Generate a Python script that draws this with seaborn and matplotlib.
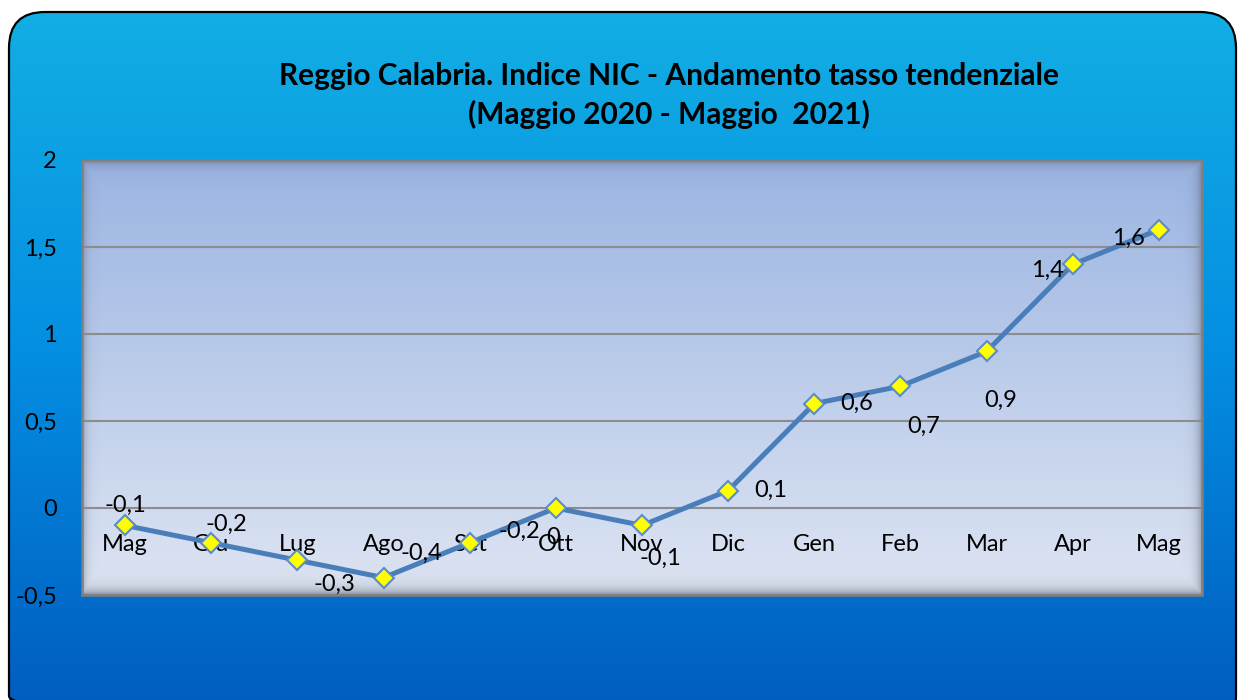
import matplotlib
matplotlib.use('Agg')
import matplotlib.pyplot as plt
from matplotlib.patches import FancyBboxPatch, Rectangle
import seaborn as sns
import numpy as np
import pandas as pd

months = ['Mag', 'Giu', 'Lug', 'Ago', 'Set', 'Ott', 'Nov', 'Dic', 'Gen', 'Feb', 'Mar', 'Apr', 'Mag']
tasso = [-0.1, -0.2, -0.3, -0.4, -0.2, 0.0, -0.1, 0.1, 0.6, 0.7, 0.9, 1.4, 1.6]
# text of the data labels as they appear on the chart
point_labels = ['-0,1', '-0,2', '-0,3', '-0,4', '-0,2', '0', '-0,1', '0,1', '0,6', '0,7', '0,9', '1,4', '1,6']
y_ticks = [-0.5, 0, 0.5, 1, 1.5, 2]
y_tick_labels = ['-0,5', '0', '0,5', '1', '1,5', '2']

# label offsets in pixels (dx, dy) relative to each point
label_offsets = [(0, 20), (15, 18), (37, -24), (38, 24), (50, 11), (-3, -29),
                 (18, -33), (43, 0), (42, 0), (23, -40), (14, -49), (-25, -6), (-30, -9)]

sns.set_theme(style='white')
plt.rcParams['font.family'] = ['Lato', 'DejaVu Sans']

W, H = 1243, 700
fig = plt.figure(figsize=(W / 100, H / 100), dpi=100)
fig.patch.set_facecolor('white')

# outer rounded background with vertical blue gradient
bg = fig.add_axes([0, 0, 1, 1])
bg.set_xlim(0, W)
bg.set_ylim(H, 0)
bg.axis('off')
top_c = np.array([18, 174, 228]) / 255
mid_c = np.array([4, 142, 226]) / 255
bot_c = np.array([0, 94, 192]) / 255
t = np.linspace(0, 1, 400)[:, None]
grad = np.where(t < 0.5, top_c + (mid_c - top_c) * (t / 0.5), mid_c + (bot_c - mid_c) * ((t - 0.5) / 0.5))
grad = np.repeat(grad[:, None, :], 2, axis=1)
box = FancyBboxPatch((9, 12), 1227, 720, boxstyle='round,pad=0,rounding_size=36',
                     facecolor='none', edgecolor='black', linewidth=1.6, zorder=3)
bg.add_patch(box)
img = bg.imshow(grad, extent=[9, 1236, 700, 12], aspect='auto', zorder=1)
img.set_clip_path(box)

# plot area
left, right, top, bottom = 82, 1202, 160, 595
ax = fig.add_axes([left / W, 1 - bottom / H, (right - left) / W, (bottom - top) / H])
ax.set_facecolor('none')

pa_top = np.array([154, 180, 226]) / 255
pa_bot = np.array([222, 229, 243]) / 255
tt = np.linspace(0, 1, 300)[:, None]
pa = pa_top + (pa_bot - pa_top) * tt
pa = np.repeat(pa[:, None, :], 2, axis=1)
ax.imshow(pa, extent=[0, 1, 0, 1], transform=ax.transAxes, aspect='auto', zorder=0)

# inner bevel shadow
ph, pw = bottom - top, right - left
yy, xx = np.mgrid[0:ph, 0:pw]
shade = np.maximum.reduce([0.55 * np.exp(-yy / 5.0),
                           0.6 * np.exp(-(ph - 1 - yy) / 6.0),
                           0.45 * np.exp(-xx / 4.0),
                           0.5 * np.exp(-(pw - 1 - xx) / 5.0)])
sh = np.zeros((ph, pw, 4))
sh[..., 0] = 0.33
sh[..., 1] = 0.36
sh[..., 2] = 0.42
sh[..., 3] = shade
ax.imshow(sh, extent=[0, 1, 0, 1], transform=ax.transAxes, aspect='auto', zorder=0.5)

df = pd.DataFrame({'pos': np.arange(len(months)), 'tasso': tasso})
sns.lineplot(data=df, x='pos', y='tasso', ax=ax, color='#4A7EBB', linewidth=3.6,
             marker='D', markersize=10.5, markerfacecolor='#FFFF00',
             markeredgecolor='#5B8BC8', markeredgewidth=1.5, zorder=5)

for i, (lab, (dx, dy)) in enumerate(zip(point_labels, label_offsets)):
    ax.annotate(lab, (i, tasso[i]), xytext=(dx, dy), textcoords='offset pixels',
                ha='center', va='center', fontsize=17, color='black', zorder=6)

ax.set_xlim(-0.5, len(months) - 0.5)
ax.set_ylim(-0.5, 2)
ax.set_yticks(y_ticks)
ax.set_yticklabels(y_tick_labels)
ax.set_xticks(range(len(months)))
ax.set_xticklabels(months)
ax.set_xlabel('')
ax.set_ylabel('')
ax.grid(False)
ax.yaxis.grid(True, color='#8C8C8C', linewidth=1.5, zorder=1)
ax.set_axisbelow(True)
for s in ax.spines.values():
    s.set_visible(False)
ax.spines['bottom'].set_position(('data', 0))
ax.tick_params(axis='x', length=0, pad=18.5, labelsize=17, colors='black')
ax.tick_params(axis='y', length=0, pad=18, labelsize=17, colors='black')
ax.add_patch(Rectangle((0, 0), 1, 1, transform=ax.transAxes, fill=False,
                       edgecolor='#808080', linewidth=1.8, clip_on=False, zorder=7))

fig.text(669 / W, 1 - 95.5 / H, 'Reggio Calabria. Indice NIC - Andamento tasso tendenziale\n(Maggio 2020 - Maggio  2021)',
         ha='center', va='center', fontsize=21.5, fontweight='bold', linespacing=1.4, color='black')

fig.savefig('out.png', dpi=100)
